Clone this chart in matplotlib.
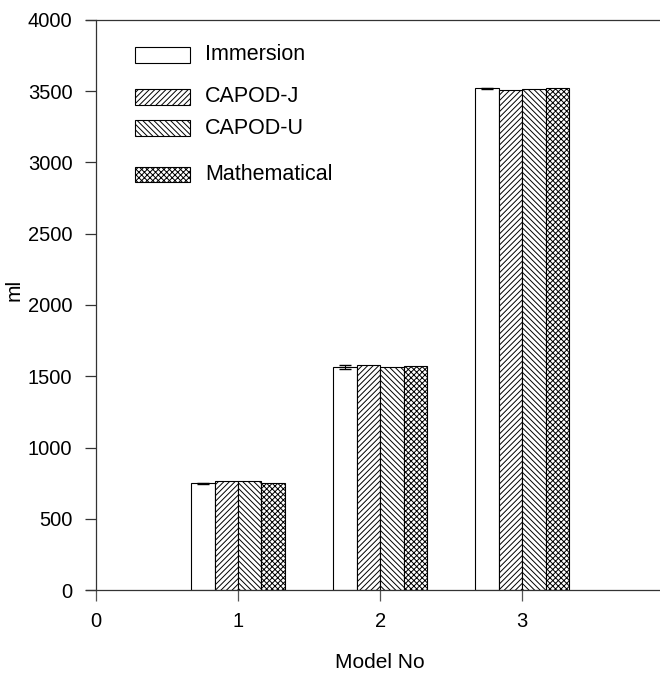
import numpy as np
import matplotlib
matplotlib.use('Agg')
import matplotlib.pyplot as plt
from matplotlib.patches import Rectangle

plt.rcParams['font.family'] = ['Liberation Sans', 'DejaVu Sans']
plt.rcParams['hatch.linewidth'] = 0.7

models = [1, 2, 3]
series = ['Immersion', 'CAPOD-J', 'CAPOD-U', 'Mathematical']
immersion = [750, 1565, 3520]
capod_j = [763, 1580, 3508]
capod_u = [762, 1565, 3514]
mathematical = [752, 1570, 3520]
immersion_err = [4, 14, 6]
x_ticks = [0, 1, 2, 3]
y_ticks = [0, 500, 1000, 1500, 2000, 2500, 3000, 3500, 4000]

hatches = ['', '//////', '\\\\\\\\\\\\', 'xxxxxx']
values = [immersion, capod_j, capod_u, mathematical]

W, H = 660, 674
fig = plt.figure(figsize=(W / 100, H / 100), dpi=100)
# axes box in pixel units: x-axis line from 86 to 660, y from 590 (0) up to 20 (4000)
ax = fig.add_axes([86 / W, (H - 590) / H, (660 - 86) / W, 570 / H])

width = 0.165
offsets = (np.arange(4) - 1.5) * width
x = np.array(models, dtype=float)
for i, (vals, h) in enumerate(zip(values, hatches)):
    ax.bar(x + offsets[i], vals, width, color='white', edgecolor='black',
           linewidth=0.8, hatch=h, zorder=2)
ax.errorbar(x + offsets[0], immersion, yerr=immersion_err, fmt='none',
            ecolor='black', elinewidth=0.8, capsize=4, zorder=3)

ax.set_xlim(-0.07, 3.97)
ax.set_ylim(0, 4000)
ax.spines['left'].set_position(('data', 0))
ax.spines['right'].set_visible(False)
for s in ['left', 'top', 'bottom']:
    ax.spines[s].set_linewidth(0.9)
    ax.spines[s].set_color('#333333')

ax.set_xticks(x_ticks)
ax.set_yticks(y_ticks)
ax.tick_params(axis='y', direction='out', length=8, width=0.9, pad=9,
               labelsize=14.5, color='#333333')
ax.tick_params(axis='x', direction='out', length=8, width=0.9, pad=8,
               labelsize=14.5, color='#555555')

fig.text(14 / W, 1 - 290 / H, 'ml', rotation=90, fontsize=15,
         ha='center', va='center')
fig.text(380 / W, 1 - 662 / H, 'Model No', fontsize=15,
         ha='center', va='center')

# legend drawn by hand to keep the uneven row spacing
rows = [55, 97, 128, 175]
for name, h, yc in zip(series, hatches, rows):
    fig.patches.append(Rectangle((135 / W, 1 - (yc + 7.5) / H), 55 / W, 15 / H,
                                 transform=fig.transFigure, facecolor='white',
                                 edgecolor='black', linewidth=0.8, hatch=h))
    fig.text(205 / W, 1 - yc / H, name, fontsize=15.5, ha='left', va='center')

fig.savefig('out.png', dpi=100)
